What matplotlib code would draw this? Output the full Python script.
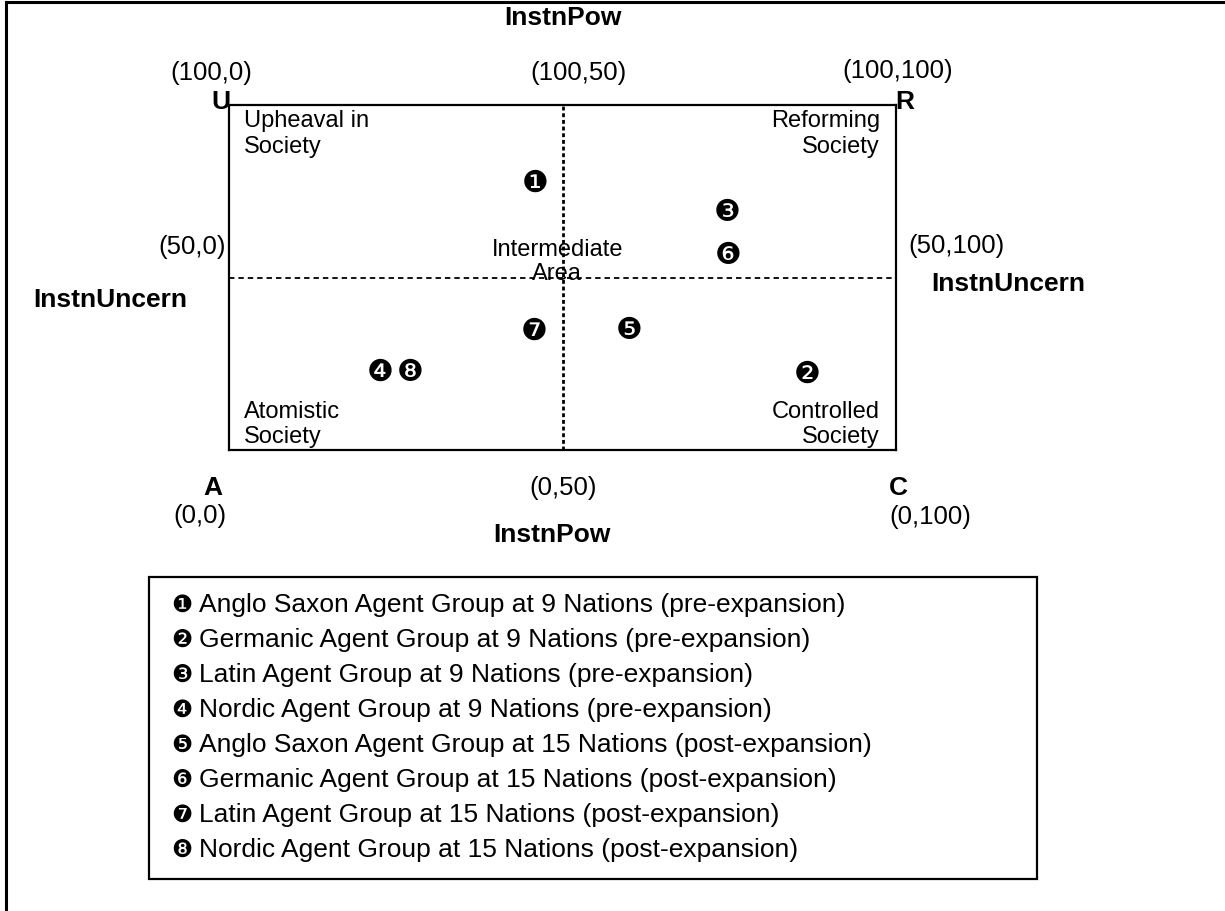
import matplotlib
matplotlib.use("Agg")
import matplotlib.pyplot as plt
from matplotlib.lines import Line2D
from matplotlib.patches import Rectangle

plt.rcParams['font.family'] = ['Liberation Sans', 'DejaVu Sans']

# data
marker_symbols = ['❶', '❷', '❸', '❹', '❺', '❻', '❼', '❽']
x_vals = [45.9, 86.7, 74.7, 22.6, 60.0, 74.8, 45.7, 27.1]
y_vals = [77.4, 22.0, 68.7, 22.6, 34.5, 56.5, 34.5, 22.6]
legend_labels = [
    'Anglo Saxon Agent Group at 9 Nations (pre-expansion)',
    'Germanic Agent Group at 9 Nations (pre-expansion)',
    'Latin Agent Group at 9 Nations (pre-expansion)',
    'Nordic Agent Group at 9 Nations (pre-expansion)',
    'Anglo Saxon Agent Group at 15 Nations (post-expansion)',
    'Germanic Agent Group at 15 Nations (post-expansion)',
    'Latin Agent Group at 15 Nations (post-expansion)',
    'Nordic Agent Group at 15 Nations (post-expansion)',
]
quadrant_labels = ['Upheaval in\nSociety', 'Reforming\nSociety',
                   'Atomistic\nSociety', 'Controlled\nSociety']
center_label = 'Intermediate\nArea'

W, H = 1225, 911
fig = plt.figure(figsize=(W / 100, H / 100), dpi=100)

def fx(px):
    return px / W

def fy(py):
    return 1 - py / H

# outer frame (top and left edges visible)
fig.add_artist(Line2D([fx(6), fx(1225)], [fy(2), fy(2)], color='black', lw=2.2))
fig.add_artist(Line2D([fx(6), fx(6)], [fy(2), fy(911)], color='black', lw=2.2))

L, R, T, B = 229, 896, 105, 450
ax = fig.add_axes([fx(L), fy(B), (R - L) / W, (B - T) / H])
ax.set_xlim(0, 100)
ax.set_ylim(0, 100)
ax.set_xticks([])
ax.set_yticks([])
for s in ax.spines.values():
    s.set_linewidth(1.6)

ax.axvline(50, color='black', lw=2.0, ls=(0, (1.4, 1.0)))
ax.axhline(50, color='black', lw=1.3, ls=(0, (3, 2.2)))

fs = 17
ls = 1.2
ax.text(2.25, 98.5, quadrant_labels[0], ha='left', va='top', fontsize=fs, linespacing=ls)
ax.text(97.6, 98.5, quadrant_labels[1], ha='right', va='top', fontsize=fs, linespacing=ls)
ax.text(2.25, 0.6, quadrant_labels[2], ha='left', va='bottom', fontsize=fs, linespacing=ls)
ax.text(97.6, 0.6, quadrant_labels[3], ha='right', va='bottom', fontsize=fs, linespacing=ls)
ax.text(49.2, 54.5, center_label, ha='center', va='center', fontsize=fs, linespacing=1.1)

for sym, x, y in zip(marker_symbols, x_vals, y_vals):
    ax.text(x, y, sym, ha='center', va='center', fontsize=21.5, family='DejaVu Sans')

# outer labels
def ftext(px, py, s, bold=False, size=18.5, ha='center'):
    fig.text(fx(px), fy(py), s, ha=ha, va='center', fontsize=size,
             fontweight='bold' if bold else 'normal')

ftext(563, 18, 'InstnPow', bold=True, size=19)
ftext(552, 535, 'InstnPow', bold=True, size=19)
ftext(110, 300, 'InstnUncern', bold=True, size=19)
ftext(1008, 284, 'InstnUncern', bold=True, size=19)

ftext(211, 73, '(100,0)')
ftext(578, 73, '(100,50)')
ftext(898, 71, '(100,100)')
ftext(192, 247, '(50,0)')
ftext(956, 246, '(50,100)')
ftext(563, 488, '(0,50)')
ftext(200, 516, '(0,0)')
ftext(930, 517, '(0,100)')

ftext(221, 102, 'U', bold=True, size=19)
ftext(905, 102, 'R', bold=True, size=19)
ftext(213, 488, 'A', bold=True, size=19)
ftext(898, 488, 'C', bold=True, size=19)

# legend box
fig.add_artist(Rectangle((fx(149), fy(879)), (1037 - 149) / W, (879 - 577) / H,
                         transform=fig.transFigure, fill=False, edgecolor='black', lw=1.6))
for i, (sym, lab) in enumerate(zip(marker_symbols, legend_labels)):
    py = 605 + i * 35
    fig.text(fx(182), fy(py), sym, ha='center', va='center', fontsize=17,
             family='DejaVu Sans')
    fig.text(fx(199), fy(py), lab, ha='left', va='center', fontsize=19)

fig.savefig('out.png', dpi=100)
